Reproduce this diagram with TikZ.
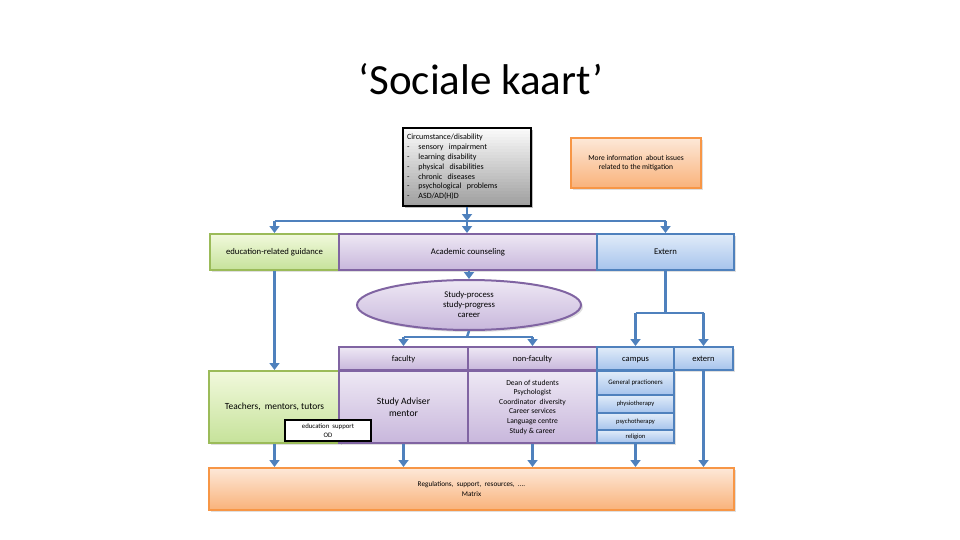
\documentclass[tikz,border=0pt]{standalone}
\usepackage{fontspec}
\setmainfont{Carlito}
\usepackage{tikz}
\usetikzlibrary{arrows.meta,shapes.geometric,shadows}

\definecolor{flowblue}{HTML}{4F81BD}
\definecolor{greenline}{HTML}{9BBB59}
\definecolor{purpleline}{HTML}{8064A2}
\definecolor{orangeline}{HTML}{F79646}
\definecolor{greentop}{HTML}{F1F9DC}
\definecolor{greenbot}{HTML}{C6E29A}
\definecolor{purpletop}{HTML}{EEE8F4}
\definecolor{purplebot}{HTML}{C8B7DC}
\definecolor{bluetop}{HTML}{E1ECF9}
\definecolor{bluebot}{HTML}{A6C3EC}
\definecolor{orangetop}{HTML}{FDE8D8}
\definecolor{orangebot}{HTML}{F9B27A}
\definecolor{graytop}{HTML}{FAFAFA}
\definecolor{graybot}{HTML}{A0A0A0}

\begin{document}
\begin{tikzpicture}[x=1pt, y=-1pt, >={Triangle[width=10pt,length=7pt]},
    box/.style={rectangle, draw, line width=2pt, inner sep=1pt, align=center,
      font=\fontsize{7.5}{9}\selectfont, drop shadow={opacity=0.25, shadow xshift=2pt, shadow yshift=-2pt}},
    greenbox/.style={box, draw=greenline, top color=greentop, bottom color=greenbot},
    purplebox/.style={box, draw=purpleline, top color=purpletop, bottom color=purplebot},
    bluebox/.style={box, draw=flowblue, top color=bluetop, bottom color=bluebot},
    orangebox/.style={box, draw=orangeline, top color=orangetop, bottom color=orangebot},
    graybox/.style={rectangle, draw=black, line width=2.4pt, inner sep=1pt},
    header/.style={font=\fontsize{8.5}{10}\selectfont, text height=1.6ex, text depth=0.4ex},
    flow/.style={->, flowblue, line width=2.4pt},
    link/.style={flowblue, line width=2.4pt}]

    % Canvas
    \useasboundingbox (0,0) rectangle (960,540);

    % Parameters
    \def\rowh{36}  % height of first row
    \def\headh{23} % height of second row headers
    \def\cellh{72} % height of content cells

    % Title
    \node (title) at (481,79) {\fontsize{43}{46}\selectfont ‘Sociale kaart’};

    % Top boxes: shadow and gradient of the circumstance box
    \fill[black, opacity=0.25] (405,130) rectangle (533,208);
    \foreach \k in {0,...,25} {
      \pgfmathsetmacro\pct{100*\k/25}
      \fill[graybot!\pct!graytop] (403,{128+3*\k}) rectangle (531,{131.4+3*\k});
    }
    \node[graybox, minimum width=128, minimum height=78, align=left, text width=120,
      font=\fontsize{8}{9.8}\selectfont] (circ) at (467,167)
      {Circumstance/disability\\
       -\hspace{9pt}sensory \ impairment\\
       -\hspace{9pt}learning disability\\
       -\hspace{9pt}physical \ disabilities\\
       -\hspace{9pt}chronic \ diseases\\
       -\hspace{9pt}psychological \ problems\\
       -\hspace{9pt}ASD/AD(H)D};
    \node[orangebox, minimum width=130, minimum height=50] (info) at (636,163)
      {More information \ about issues\\related to the mitigation};

    % First row
    \node[greenbox, minimum width=129, minimum height=\rowh, font=\fontsize{8.7}{10}\selectfont] (guide) at (274.5,252) {education-related guidance};
    \node[purplebox, minimum width=258, minimum height=\rowh, font=\fontsize{8.7}{10}\selectfont] (acad) at (468,252) {Academic counseling};
    \node[bluebox, minimum width=137, minimum height=\rowh, font=\fontsize{8.7}{10}\selectfont] (ext) at (665.5,252) {Extern};

    % Study process
    \node[ellipse, draw=purpleline, line width=2pt, top color=purpletop, bottom color=purplebot,
      minimum width=224, minimum height=50, inner sep=0pt, align=center, font=\fontsize{8.7}{10}\selectfont,
      drop shadow={opacity=0.25, shadow xshift=2pt, shadow yshift=-2pt}] (proc) at (469,305)
      {Study-process\\study-progress\\career};

    % Second row headers
    \node[purplebox, header, minimum width=129, minimum height=\headh] (fac) at (403.5,358.5) {faculty};
    \node[purplebox, header, minimum width=129, minimum height=\headh] (nonfac) at (532.5,358.5) {non-faculty};
    \node[bluebox, header, minimum width=77, minimum height=\headh] (campus) at (635.5,358.5) {campus};
    \node[bluebox, header, minimum width=59, minimum height=\headh] (extern) at (703.5,358.5) {extern};

    % Content cells
    \node[greenbox, minimum width=131, minimum height=\cellh, font=\fontsize{9.4}{11}\selectfont] (teach) at (274.5,407) {Teachers, \ mentors, tutors};
    \node[purplebox, minimum width=129, minimum height=\cellh, font=\fontsize{9.6}{11.5}\selectfont] (adv) at (403.5,407) {Study Adviser\\mentor};
    \node[purplebox, minimum width=129, minimum height=\cellh, font=\fontsize{7.6}{9.6}\selectfont] (staff) at (532.5,407)
      {Dean of students\\Psychologist\\Coordinator \ diversity\\Career services\\Language centre\\Study \& career};
    \node[bluebox, minimum width=77, minimum height=24, font=\fontsize{6.8}{8}\selectfont] (gp) at (635.5,383) {General practioners};
    \node[bluebox, minimum width=77, minimum height=18, font=\fontsize{6.5}{8}\selectfont] (phys) at (635.5,404) {physiotherapy};
    \node[bluebox, minimum width=77, minimum height=17, font=\fontsize{6.5}{8}\selectfont] (psych) at (635.5,421.5) {psychotherapy};
    \node[bluebox, minimum width=77, minimum height=13, font=\fontsize{6.5}{8}\selectfont] (rel) at (635.5,436.5) {religion};
    \node[rectangle, draw=black, line width=1.4pt, fill=white, minimum width=86, minimum height=21, inner sep=0pt,
      align=center, font=\fontsize{6.8}{8.5}\selectfont] (edsup) at (328,430.5) {education \ support\\OD};

    % Bottom box
    \node[orangebox, minimum width=525, minimum height=42, font=\fontsize{7.2}{9.5}\selectfont] (matrix) at (471.5,489)
      {Regulations, \ support, \ resources, \ ....\\Matrix};

    % Junctions
    \coordinate (split1) at (467,221);
    \coordinate (split2) at (467,337);
    \coordinate (split3) at (665.5,313);

    % Draw connectors
    \draw[flow] (circ.south) -- (split1);
    \draw[link] (guide.north |- split1) -- (ext.north |- split1);
    \draw[flow] (guide.north |- split1) -- (guide.north);
    \draw[flow] (split1) -- (split1 |- acad.north);
    \draw[flow] (ext.north |- split1) -- (ext.north);

    \draw[flow] (acad.south -| proc.north) -- (proc.north);
    \draw[link] (proc.south) -- (split2);
    \draw[link] (fac.north |- split2) -- (nonfac.north |- split2);
    \draw[flow] (fac.north |- split2) -- (fac.north);
    \draw[flow] (nonfac.north |- split2) -- (nonfac.north);

    \draw[link] (ext.south) -- (split3);
    \draw[link] (campus.north |- split3) -- (extern.north |- split3);
    \draw[flow] (campus.north |- split3) -- (campus.north);
    \draw[flow] (extern.north |- split3) -- (extern.north);

    \draw[flow] (guide.south) -- (teach.north);

    % Arrows down to the matrix
    \draw[flow] (teach.south) -- (teach.south |- matrix.north);
    \draw[flow] (adv.south) -- (adv.south |- matrix.north);
    \draw[flow] (staff.south) -- (staff.south |- matrix.north);
    \draw[flow] (rel.south) -- (rel.south |- matrix.north);
    \draw[flow] (extern.south) -- (extern.south |- matrix.north);

\end{tikzpicture}
\end{document}
